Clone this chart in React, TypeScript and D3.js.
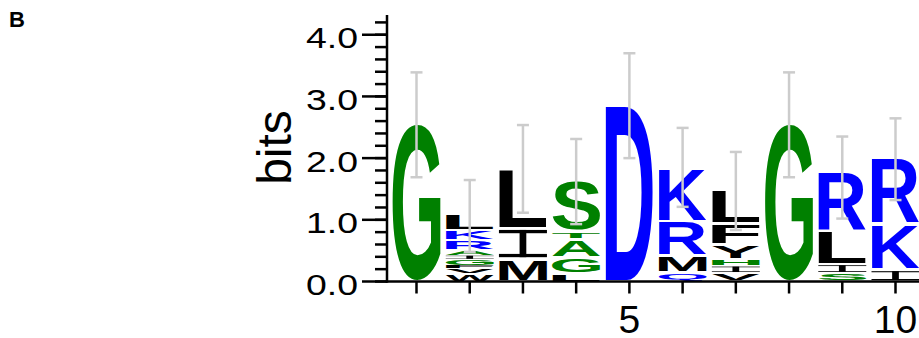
import React, { useMemo } from "react";
import * as d3 from "d3";

// ---- data ----
const positions = [1, 2, 3, 4, 5, 6, 7, 8, 9, 10];
// letters of each stack, bottom -> top
const stackLetters: string[][] = [
  ["G"],
  ["W", "V", "F", "G", "I", "A", "R", "K", "L"],
  ["M", "I", "L"],
  ["L", "G", "A", "T", "S"],
  ["D"],
  ["Q", "M", "R", "K"],
  ["V", "I", "H", "Y", "F", "L"],
  ["G"],
  ["S", "I", "L", "R"],
  ["I", "K", "R"],
];
// information content (bits) of each letter, bottom -> top
const stackBits: number[][] = [
  [2.56],
  [0.13, 0.08, 0.04, 0.11, 0.065, 0.085, 0.155, 0.165, 0.27],
  [0.37, 0.49, 0.97],
  [0.12, 0.27, 0.3, 0.12, 0.83],
  [2.86],
  [0.14, 0.28, 0.56, 0.86],
  [0.14, 0.115, 0.105, 0.235, 0.34, 0.54],
  [2.56],
  [0.14, 0.14, 0.54, 0.96],
  [0.19, 0.745, 1.06],
];
const errLow = [1.69, 0.48, 1.115, 0.93, 2.0, 1.21, 0.835, 1.69, 1.02, 1.32];
const errHigh = [3.39, 1.645, 2.536, 2.31, 3.7, 2.49, 2.1, 3.39, 2.35, 2.645];
const yMajorTicks = [0, 1, 2, 3, 4];
const yTickLabels = ["0.0", "1.0", "2.0", "3.0", "4.0"];
const xLabelled = [5, 10];
const yMax = 4.32;

const hydrophilic = "RKDENQ";
const neutral = "SGHTAP";
const colorOf = (c: string) =>
  hydrophilic.includes(c) ? "#0000ff" : neutral.includes(c) ? "#008000" : "#000000";

const LETTER_FONT = '"Liberation Sans", Arial, Helvetica, sans-serif';

type Metric = { left: number; right: number; ascent: number; descent: number };

function useMetrics(): Record<string, Metric> {
  return useMemo(() => {
    const ctx = document.createElement("canvas").getContext("2d")!;
    ctx.font = `bold 100px ${LETTER_FONT}`;
    const out: Record<string, Metric> = {};
    "ACDEFGHIKLMNPQRSTVWY".split("").forEach((ch) => {
      const m = ctx.measureText(ch);
      out[ch] = {
        left: m.actualBoundingBoxLeft,
        right: m.actualBoundingBoxRight,
        ascent: m.actualBoundingBoxAscent,
        descent: m.actualBoundingBoxDescent,
      };
    });
    return out;
  }, []);
}

function Glyph({ ch, x, y, w, h, m }: { ch: string; x: number; y: number; w: number; h: number; m: Metric }) {
  const color = colorOf(ch);
  if (h <= 0) return null;
  if (ch === "I") {
    const bar = h * 0.12;
    const sw = w * 0.14;
    return (
      <g fill={color}>
        <rect x={x} y={y} width={w} height={bar} />
        <rect x={x + w / 2 - sw / 2} y={y} width={sw} height={h} />
        <rect x={x} y={y + h - bar} width={w} height={bar} />
      </g>
    );
  }
  const sx = w / (m.left + m.right);
  const sy = h / (m.ascent + m.descent);
  return (
    <text
      transform={`translate(${x},${y}) scale(${sx},${sy})`}
      x={m.left}
      y={m.ascent}
      fontSize={100}
      fontWeight="bold"
      fontFamily={LETTER_FONT}
      fill={color}
    >
      {ch}
    </text>
  );
}

export default function App() {
  const metrics = useMetrics();
  const width = 919;
  const height = 338;
  const axisX = 387;
  const yScale = d3.scaleLinear().domain([0, yMax]).range([281.5, 15]);
  const xScale = d3.scaleLinear().domain([1, 10]).range([416.5, 895.5]);
  const colW = 48;
  const minorTicks = d3.range(0, 4.21, 0.2);
  const font = '"Liberation Sans", Arial, Helvetica, sans-serif';

  return (
    <svg
      width={width}
      height={height}
      style={{ position: "absolute", left: 0, top: 0, background: "#fff" }}
      fontFamily={font}
    >
      <rect width={width} height={height} fill="#fff" />
      <text x={9} y={26.5} fontSize={22} fontWeight="bold">
        B
      </text>

      {/* stacks */}
      {positions.map((p, i) => {
        let cum = 0;
        const cx = xScale(p);
        return (
          <g key={p}>
            {stackLetters[i].map((ch, j) => {
              const v = stackBits[i][j];
              const yb = yScale(cum);
              const yt = yScale(cum + v);
              cum += v;
              const hBox = yb - yt;
              const pad = Math.min(1.5, hBox * 0.12);
              return (
                <Glyph
                  key={j}
                  ch={ch}
                  x={cx - colW / 2}
                  y={yt + pad}
                  w={colW}
                  h={hBox - 2 * pad}
                  m={metrics[ch]}
                />
              );
            })}
          </g>
        );
      })}

      {/* error bars */}
      <g stroke="#cccccc" strokeWidth={2.5} fill="none">
        {positions.map((p, i) => {
          const cx = xScale(p);
          const y1 = yScale(errLow[i]);
          const y2 = yScale(errHigh[i]);
          return (
            <g key={p}>
              <line x1={cx} x2={cx} y1={y1} y2={y2} />
              <line x1={cx - 6} x2={cx + 6} y1={y1} y2={y1} />
              <line x1={cx - 6} x2={cx + 6} y1={y2} y2={y2} />
            </g>
          );
        })}
      </g>

      {/* y axis */}
      <g stroke="#000" strokeWidth={2.5}>
        <line x1={axisX} x2={axisX} y1={yScale(yMax)} y2={yScale(0) + 1.25} />
        {minorTicks.map((t) => (
          <line key={t} x1={axisX - 12} x2={axisX} y1={yScale(t)} y2={yScale(t)} />
        ))}
        {yMajorTicks.map((t) => (
          <line key={t} x1={axisX - 25} x2={axisX} y1={yScale(t)} y2={yScale(t)} />
        ))}
      </g>
      {yMajorTicks.map((t, i) => (
        <text
          key={t}
          x={306}
          y={yScale(t) + 13.5}
          fontSize={29}
          textLength={52}
          lengthAdjust="spacingAndGlyphs"
        >
          {yTickLabels[i]}
        </text>
      ))}
      <text
        transform={`translate(291,147.5) rotate(-90)`}
        textAnchor="middle"
        fontSize={48}
      >
        bits
      </text>

      {/* x axis */}
      <g stroke="#000" strokeWidth={2.5}>
        <line x1={axisX - 1.25} x2={width} y1={yScale(0)} y2={yScale(0)} />
        {positions.map((p) => (
          <line key={p} x1={xScale(p)} x2={xScale(p)} y1={yScale(0)} y2={yScale(0) + 12} />
        ))}
      </g>
      {xLabelled.map((p) => (
        <text key={p} x={xScale(p)} y={333} textAnchor="middle" fontSize={39}>
          {p}
        </text>
      ))}
    </svg>
  );
}
